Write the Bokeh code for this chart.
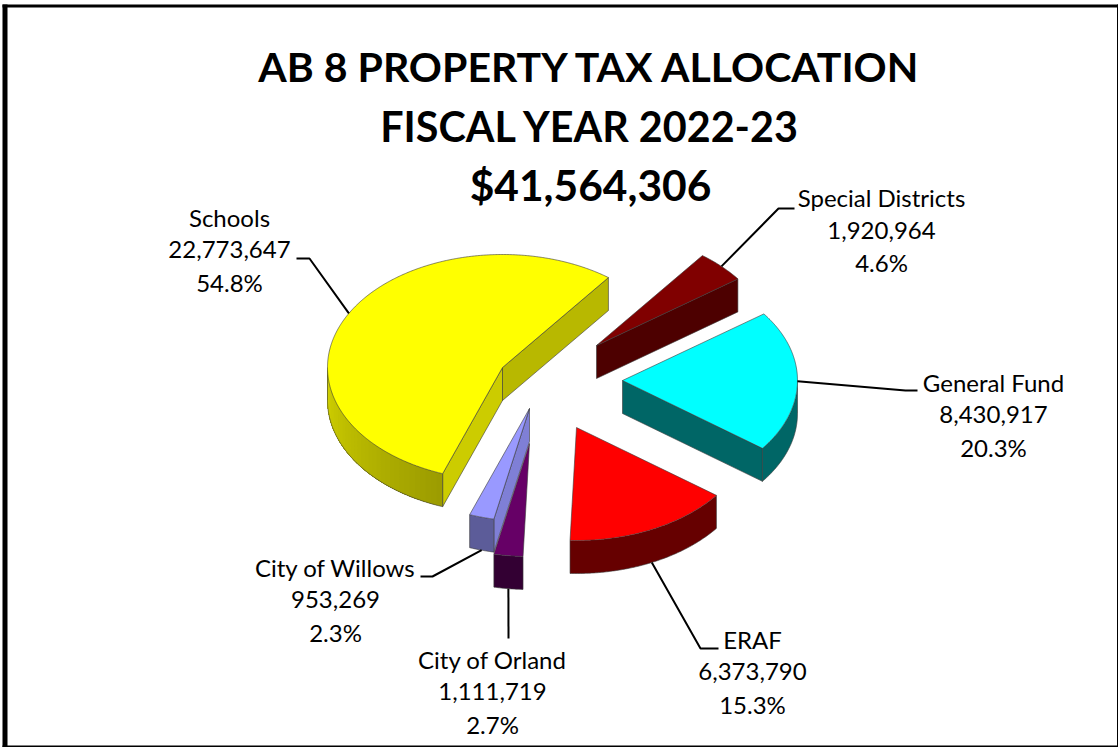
import numpy as np
from bokeh.plotting import figure
from bokeh.models import Range1d
from bokeh.core.properties import value
from bokeh.embed import file_html
from bokeh.resources import INLINE

# ---- data ----
categories = ["Schools", "Special Districts", "General Fund", "ERAF", "City of Orland", "City of Willows"]
amounts = [22773647, 1920964, 8430917, 6373790, 1111719, 953269]
percent_labels = ["54.8%", "4.6%", "20.3%", "15.3%", "2.7%", "2.3%"]
title_lines = ["AB 8 PROPERTY TAX ALLOCATION", "FISCAL YEAR 2022-23", "$41,564,306"]

# ---- layout of the 3-D pie (pixels) ----
W, H = 1118, 747
RX, RY, DEPTH = 175.0, 113.0, 33.0
START_DEG = 200.0  # clockwise from top
apexes = [(502, 367), (596, 345), (622, 380), (576, 427), (529, 443), (529, 408)]
top_colors = ["#FFFF00", "#800000", "#00FFFF", "#FF0000", "#660066", "#9999FF"]
side_start = ["#CCCC00", None, None, None, None, "#7F7FD6"]     # cut face at the slice's first edge
side_end = ["#B8B800", "#4D0000", "#006666", None, None, None]  # cut face at the slice's last edge
wall_from = ["#9C9C00", None, "#006666", "#660000", "#330033", "#5C5C99"]
wall_to = ["#D2D200", None, "#006666", "#660000", "#330033", "#5C5C99"]
draw_order = [1, 2, 0, 5, 4, 3]
label_centers = [(229, 216.5), (881, 197), (993, 381.5), (752, 638.5), (492, 658.5), (335, 566.5)]
leader_knees = [[(309, 258), (296, 258)], [(778, 208), (794, 208)], [(905, 390), (917, 390)],
                [(700, 648), (718, 648)], [(508, 638)], [(432, 576), (420, 576)]]
LINE_GAP = 32.5
EDGE = "#3A3A3A"

p = figure(width=W, height=H, output_backend="svg", toolbar_location=None,
           x_range=Range1d(0, W), y_range=Range1d(H, 0),
           min_border=0, background_fill_color="white",
           border_fill_color="white", outline_line_color=None)
p.axis.visible = False
p.grid.visible = False

# frame
p.quad(left=[2, 2, 1116.5, 2], right=[7, 1118, 1118, 1118], top=[4, 4, 4, 745],
       bottom=[747, 7, 747, 747], fill_color="black", line_color=None)

total = sum(amounts)
spans = [a / total * 360.0 for a in amounts]
starts = [(START_DEG + sum(spans[:i])) % 360 for i in range(len(spans))]


def on_rim(i, deg, drop=0.0):
    t = np.radians(deg)
    return apexes[i][0] + RX * np.sin(t), apexes[i][1] - RY * np.cos(t) + drop


def hex_mix(a, b, f):
    ca = [int(a[k:k + 2], 16) for k in (1, 3, 5)]
    cb = [int(b[k:k + 2], 16) for k in (1, 3, 5)]
    return "#%02X%02X%02X" % tuple(int(round(x + (y - x) * f)) for x, y in zip(ca, cb))


def cut_face(i, deg, color):
    ax, ay = apexes[i]
    ex, ey = on_rim(i, deg)
    p.patch([ax, ex, ex, ax], [ay, ey, ey + DEPTH, ay + DEPTH], fill_color=color,
            line_color=EDGE, line_width=0.75, line_alpha=0.8)


def wall_patch(i, a, b, color):
    deg = np.linspace(a, b, max(2, int((b - a) * 2) + 2))
    xt, yt = on_rim(i, deg)
    xb, yb = on_rim(i, deg[::-1], DEPTH)
    p.patch(list(xt) + list(xb), list(yt) + list(yb), fill_color=color, line_color=None)


for i in draw_order:
    s, e = starts[i], starts[i] + spans[i]
    # cut faces
    if side_start[i]:
        cut_face(i, s, side_start[i])
    if side_end[i]:
        cut_face(i, e, side_end[i])
    # outer wall (the near half of the rim, 90..270 degrees)
    if wall_from[i]:
        lo = max(s, 90.0)
        hi = min(e, 270.0)
        if hi > lo:
            if wall_from[i] == wall_to[i]:
                wall_patch(i, lo, hi, wall_from[i])
            else:
                # each band reaches the far end, so that later bands paint over it without seams
                n = max(2, int((hi - lo) / 2))
                for k in range(n):
                    a = lo + (hi - lo) * k / n
                    wall_patch(i, a, hi, hex_mix(wall_from[i], wall_to[i], k / (n - 1)))
            deg = np.linspace(lo, hi, int((hi - lo) * 2) + 2)
            xo, yo = on_rim(i, deg, DEPTH)
            p.line(list(xo), list(yo), line_color=EDGE, line_width=0.75, line_alpha=0.8)
            for d in (lo, hi):
                xa, ya = on_rim(i, d)
                p.line([xa, xa], [ya, ya + DEPTH], line_color=EDGE, line_width=0.75, line_alpha=0.8)
    # top face
    deg = np.linspace(s, e, int(spans[i] * 2) + 2)
    xs, ys = on_rim(i, deg)
    p.patch([apexes[i][0]] + list(xs), [apexes[i][1]] + list(ys), fill_color=top_colors[i],
            line_color=EDGE, line_width=0.75, line_alpha=0.8)

# leader lines, from the middle of each slice's rim
for i in range(len(categories)):
    mid = (starts[i] + spans[i] / 2) % 360
    near = 100 < mid < 270
    x0, y0 = on_rim(i, mid, DEPTH if near else 0.0)
    p.line([x0] + [k[0] for k in leader_knees[i]], [y0] + [k[1] for k in leader_knees[i]],
           line_color="black", line_width=2)

# labels
font = value("Lato")
for i, name in enumerate(categories):
    cx, cy = label_centers[i]
    rows = [name, f"{amounts[i]:,}", percent_labels[i]]
    p.text(x=[cx] * 3, y=[cy + LINE_GAP * k for k in range(3)], text=rows, text_font=font,
           text_font_size="24px", text_align="center", text_baseline="middle", text_color="black")

# title
title_sizes = ["41px", "41.3px", "42.5px"]
for k, line in enumerate(title_lines):
    p.text(x=[590], y=[66 + 59 * k], text=[line], text_font=font, text_font_size=title_sizes[k],
           text_font_style="bold", text_align="center", text_baseline="middle", text_color="black")

open("out.html", "w").write(file_html(p, INLINE))
